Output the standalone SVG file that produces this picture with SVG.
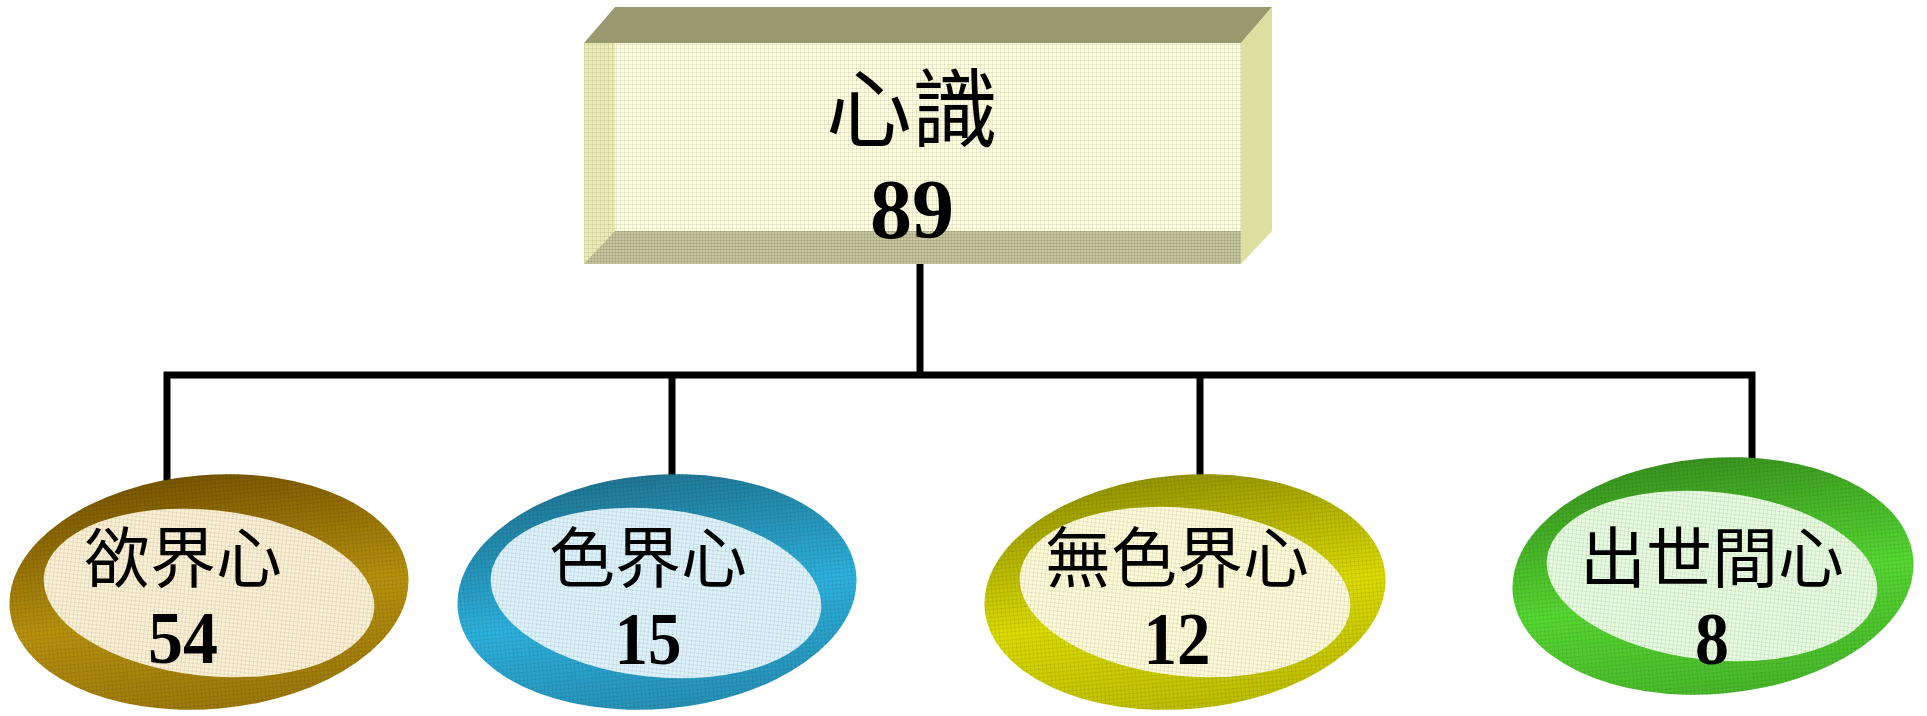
<svg xmlns="http://www.w3.org/2000/svg" width="1927" height="716" viewBox="0 0 1927 716">
<style>
.cjk{font-family:"Noto Sans CJK TC","Noto Sans CJK SC",sans-serif;fill:#000;text-anchor:middle}
.num{font-family:"Liberation Serif","Times New Roman",serif;font-weight:bold;fill:#000;text-anchor:middle}
.conn{stroke:#000;stroke-width:7;fill:none;stroke-linecap:square}
</style>
<defs>
<pattern id="texd" width="4" height="4" patternUnits="userSpaceOnUse">
<path d="M0 0.5H4M0.5 0V4" stroke="#000" stroke-opacity="0.08" stroke-width="1"/>
</pattern>
<pattern id="texb" width="3" height="3" patternUnits="userSpaceOnUse">
<path d="M0 0.5H3M0.5 0V3" stroke="#6e6e50" stroke-opacity="0.25" stroke-width="1"/>
</pattern>
<linearGradient id="g1" x1="0.5" y1="0" x2="0.62" y2="1"><stop offset="0" stop-color="#7a5800"/><stop offset="0.55" stop-color="#b8920e"/><stop offset="1" stop-color="#9c780a"/></linearGradient>
<linearGradient id="g2" x1="0.5" y1="0" x2="0.62" y2="1"><stop offset="0" stop-color="#1f7896"/><stop offset="0.55" stop-color="#2eb2de"/><stop offset="1" stop-color="#2690b6"/></linearGradient>
<linearGradient id="g3" x1="0.5" y1="0" x2="0.62" y2="1"><stop offset="0" stop-color="#979700"/><stop offset="0.55" stop-color="#dcdc00"/><stop offset="1" stop-color="#bdbd00"/></linearGradient>
<linearGradient id="g4" x1="0.5" y1="0" x2="0.62" y2="1"><stop offset="0" stop-color="#3a961f"/><stop offset="0.55" stop-color="#56d932"/><stop offset="1" stop-color="#48b82a"/></linearGradient>
</defs>

<g id="connectors">
<path class="conn" d="M920 264V375M167 375H1752M167 375V486M672 375V486M1200 375V486M1752 375V486"/>
</g>

<g id="node-root">
<polygon points="584,43 615,7 1272,7 1241,43" fill="#999970"/>
<polygon points="1241,43 1272,7 1272,231 1241,264" fill="#dedea0"/>
<rect x="584" y="43" width="657" height="221" fill="#ffffe0"/>
<rect x="584" y="43" width="657" height="221" fill="url(#texd)"/>
<rect x="584" y="43" width="31" height="221" fill="#ededb4"/>
<rect x="584" y="43" width="31" height="221" fill="url(#texd)"/>
<polygon points="584,264 615,231 1241,231 1241,264" fill="#c8c8a0"/>
<polygon points="584,264 615,231 1241,231 1241,264" fill="url(#texb)"/>
<text class="cjk" x="912" y="141" font-size="86">心識</text>
<text class="num" x="912" y="238" font-size="84">89</text>
</g>

<g id="node-kama">
<ellipse cx="209" cy="592" rx="200" ry="117" transform="rotate(-5 209 592)" fill="url(#g1)"/>
<ellipse cx="209" cy="592" rx="200" ry="117" transform="rotate(-5 209 592)" fill="url(#texd)"/>
<ellipse cx="209" cy="593" rx="166" ry="83" transform="rotate(6 209 593)" fill="#fcf1d4"/>
<ellipse cx="209" cy="593" rx="166" ry="83" transform="rotate(6 209 593)" fill="url(#texd)"/>
<text class="cjk" x="183" y="582" font-size="66">欲界心</text>
<text class="num" x="183" y="663" font-size="74" textLength="70" lengthAdjust="spacingAndGlyphs">54</text>
</g>

<g id="node-rupa">
<ellipse cx="657" cy="592" rx="200" ry="117" transform="rotate(-5 657 592)" fill="url(#g2)"/>
<ellipse cx="657" cy="592" rx="200" ry="117" transform="rotate(-5 657 592)" fill="url(#texd)"/>
<ellipse cx="656" cy="593" rx="166" ry="84" transform="rotate(6 656 593)" fill="#def4fd"/>
<ellipse cx="656" cy="593" rx="166" ry="84" transform="rotate(6 656 593)" fill="url(#texd)"/>
<text class="cjk" x="648" y="582" font-size="66">色界心</text>
<text class="num" x="648" y="664" font-size="74" textLength="67" lengthAdjust="spacingAndGlyphs">15</text>
</g>

<g id="node-arupa">
<ellipse cx="1185" cy="592" rx="201" ry="117" transform="rotate(-5 1185 592)" fill="url(#g3)"/>
<ellipse cx="1185" cy="592" rx="201" ry="117" transform="rotate(-5 1185 592)" fill="url(#texd)"/>
<ellipse cx="1185" cy="592" rx="166" ry="84" transform="rotate(6 1185 592)" fill="#fffcd8"/>
<ellipse cx="1185" cy="592" rx="166" ry="84" transform="rotate(6 1185 592)" fill="url(#texd)"/>
<text class="cjk" x="1177" y="582" font-size="66">無色界心</text>
<text class="num" x="1177" y="664" font-size="74" textLength="67" lengthAdjust="spacingAndGlyphs">12</text>
</g>

<g id="node-lokuttara">
<ellipse cx="1713" cy="576" rx="201" ry="118" transform="rotate(-5 1713 576)" fill="url(#g4)"/>
<ellipse cx="1713" cy="576" rx="201" ry="118" transform="rotate(-5 1713 576)" fill="url(#texd)"/>
<ellipse cx="1712" cy="576" rx="166" ry="84" transform="rotate(6 1712 576)" fill="#e8fde0"/>
<ellipse cx="1712" cy="576" rx="166" ry="84" transform="rotate(6 1712 576)" fill="url(#texd)"/>
<text class="cjk" x="1712" y="582" font-size="66">出世間心</text>
<text class="num" x="1712" y="664" font-size="74" textLength="34" lengthAdjust="spacingAndGlyphs">8</text>
</g>
</svg>
